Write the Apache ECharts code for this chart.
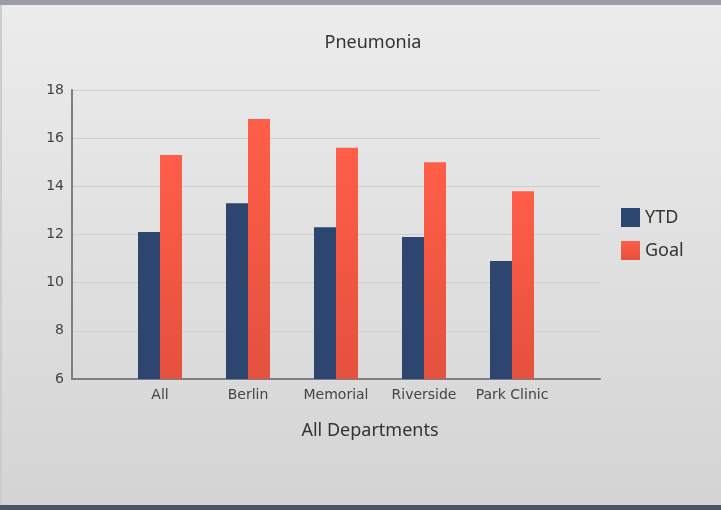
<!DOCTYPE html>
<html>
<head>
<meta charset="utf-8">
<script src="https://cdn.jsdelivr.net/npm/echarts@6/dist/echarts.min.js"></script>
<style>
  html, body { margin: 0; padding: 0; }
  #main {
    width: 721px;
    height: 510px;
    box-sizing: border-box;
    border-top: 5px solid #9a9ea3;
    border-bottom: 5px solid #4a5566;
    background: linear-gradient(#ececec, #d4d4d4);
    box-shadow: inset 2px 0 0 #c9ccd0;
  }
</style>
</head>
<body>
<div id="main"></div>
<script>
// 数据
var departments = ["All", "Berlin", "Memorial", "Riverside", "Park Clinic"];
var ytdValues = [12.1, 13.3, 12.3, 11.9, 10.9];
var goalValues = [15.3, 16.8, 15.6, 15.0, 13.8];
var yTicks = [6, 8, 10, 12, 14, 16, 18];

// 类目放在 1..5 的位置上，两端各留一格空白
function toPoints(values) {
  return values.map(function (v, i) { return [i + 1, v]; });
}

var chartDom = document.getElementById("main");
var myChart = echarts.init(chartDom);
var option;

option = {
  animation: false,
  title: {
    text: "Pneumonia",
    left: 368,
    textAlign: "center",
    top: 24,
    textStyle: {
      fontFamily: "Noto Sans",
      fontSize: 18,
      fontWeight: "normal",
      color: "#333",
    },
  },
  legend: {
    orient: "vertical",
    left: 616,
    top: 198,
    itemWidth: 19,
    itemHeight: 19,
    itemGap: 14,
    icon: "rect",
    textStyle: {
      fontFamily: "Noto Sans",
      fontSize: 18,
      color: "#333",
    },
    data: ["YTD", "Goal"],
  },
  grid: {
    left: 72,
    right: 121,
    top: 85,
    bottom: 126,
  },
  xAxis: {
    type: "value",
    min: 0,
    max: departments.length + 1,
    interval: 1,
    name: "All Departments",
    nameLocation: "middle",
    nameGap: 43,
    nameTextStyle: {
      fontFamily: "Noto Sans",
      fontSize: 18,
      color: "#333",
      padding: [0, 0, 0, 68],
    },
    splitLine: { show: false },
    axisTick: { show: false },
    axisLine: { show: true, lineStyle: { color: "#7b8088", width: 2 } },
    axisLabel: {
      margin: 9,
      fontFamily: "DejaVu Sans",
      fontSize: 14,
      color: "#444",
      formatter: function (v) {
        return departments[v - 1] || "";
      },
    },
  },
  yAxis: {
    type: "value",
    min: yTicks[0],
    max: yTicks[yTicks.length - 1],
    interval: 2,
    axisTick: { show: false },
    axisLine: { show: true, lineStyle: { color: "#7b8088", width: 2 } },
    axisLabel: {
      margin: 8,
      fontFamily: "DejaVu Sans",
      fontSize: 14,
      color: "#444",
    },
    splitLine: { lineStyle: { color: "#cfcfcf", width: 1 } },
  },
  series: [
    {
      name: "YTD",
      type: "bar",
      barWidth: 22,
      barGap: "0%",
      itemStyle: { color: "#2c4670" },
      data: toPoints(ytdValues),
    },
    {
      name: "Goal",
      type: "bar",
      barWidth: 22,
      barGap: "0%",
      itemStyle: {
        color: new echarts.graphic.LinearGradient(0, 0, 0, 1, [
          { offset: 0, color: "#ff5e48" },
          { offset: 1, color: "#e4513e" },
        ]),
      },
      data: toPoints(goalValues),
    },
  ],
};
myChart.setOption(option);
</script>
</body>
</html>
